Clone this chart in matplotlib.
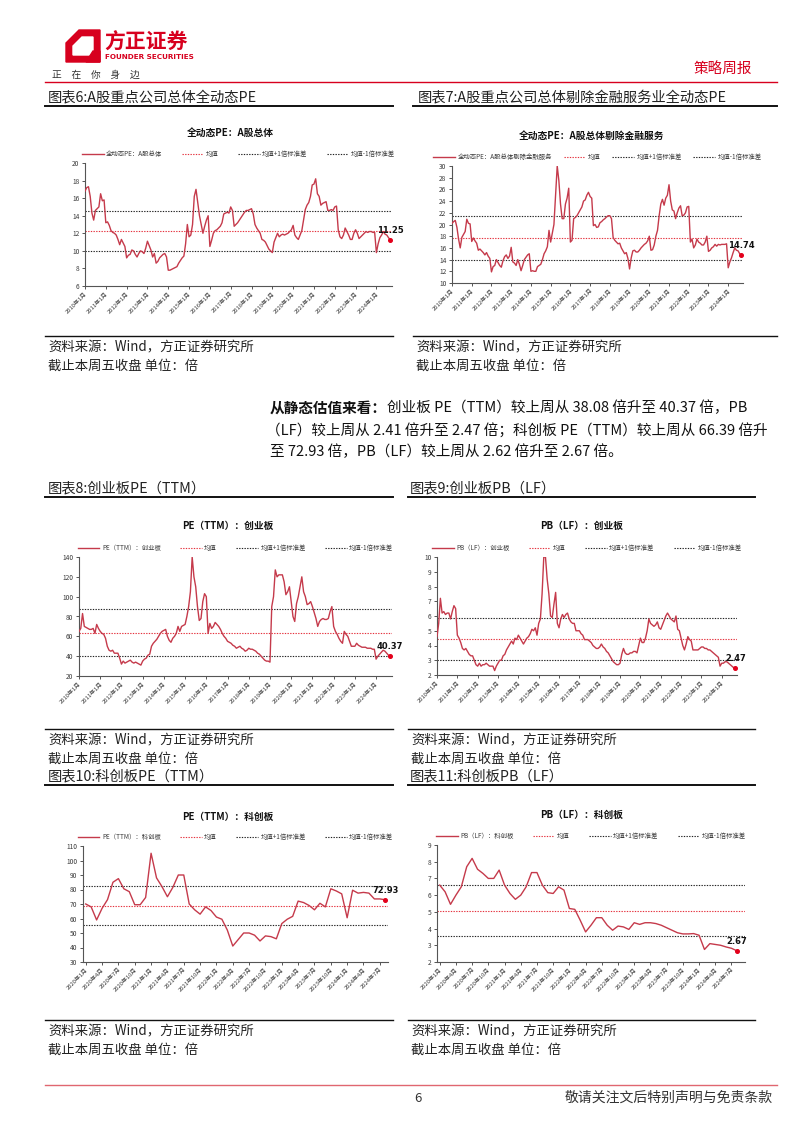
# -*- coding: utf-8 -*-
# 策略周报 第6页：A股/创业板/科创板估值图
import numpy as np
import matplotlib.pyplot as plt
from matplotlib.patches import Polygon

plt.rcParams['font.family'] = ['Noto Sans CJK SC', 'DejaVu Sans']
plt.rcParams['axes.unicode_minus'] = False

# ---------------- 数据 ----------------
# 月度，2010年1月 ~ 2024年9月
pe_all = [16.8, 17.2, 17.3, 16.2, 14.3, 13.5, 14.6, 14.8, 15.0, 16.5, 15.7, 15.8,
          13.2, 13.3, 12.9, 12.3, 12.1, 12.0, 11.8, 11.3, 10.7, 11.3, 10.9, 10.5,
          9.2, 9.5, 9.6, 10.1, 10.0, 9.6, 9.3, 9.7, 10.0, 9.9, 9.7, 10.3,
          11.1, 10.6, 10.1, 9.3, 9.7, 8.6, 8.8, 9.2, 9.4, 9.6, 9.7, 9.3,
          7.8, 7.8, 7.9, 8.0, 8.1, 8.2, 8.6, 8.9, 9.2, 9.4, 10.8, 13.0,
          11.6, 11.8, 13.0, 16.2, 17.0, 15.5, 14.0, 13.0, 12.0, 12.8, 13.5, 14.0,
          10.5, 11.2, 12.0, 12.3, 12.4, 12.6, 12.8, 13.2, 14.2, 14.3, 14.4, 14.3,
          15.0, 14.6, 12.8, 13.0, 13.2, 13.5, 13.8, 14.1, 14.4, 14.6, 14.6, 14.7,
          14.8, 14.2, 13.0, 12.6, 12.3, 12.0, 11.3, 11.2, 11.0, 10.6, 10.2, 10.0,
          9.8, 11.0, 11.5, 12.0, 11.6, 11.8, 11.9, 11.8, 11.9, 12.0, 12.2, 12.4,
          12.9, 11.8, 11.5, 11.3, 11.8, 12.3, 13.5, 14.7, 15.2, 15.5, 16.2, 17.5,
          17.6, 18.2, 16.5, 16.2, 15.2, 15.4, 15.5, 15.6, 14.6, 14.6, 14.7, 14.6,
          15.0, 15.1, 12.4, 11.6, 11.4, 11.8, 12.6, 12.2, 11.8, 11.3, 11.3, 12.0,
          12.4, 12.0, 11.4, 11.6, 11.8, 12.0, 12.2, 12.1, 12.2, 12.2, 12.1, 12.1,
          9.8, 10.8, 11.5, 11.8, 12.2, 11.9, 11.8, 11.5, 11.25]

pe_ex_fin = [20.2, 20.5, 20.7, 19.5, 17.5, 16.0, 17.8, 18.3, 18.8, 20.9, 20.2, 20.1,
             17.1, 17.7, 17.2, 16.8, 15.6, 15.8, 15.5, 15.2, 14.8, 15.2, 14.6, 14.2,
             11.9, 12.8, 13.0, 14.0, 13.5, 13.0, 12.7, 13.8, 14.5, 14.8, 14.2, 14.6,
             16.1, 13.6, 13.4, 13.0, 14.0, 13.2, 12.1, 13.0, 14.0, 14.4, 14.8, 15.0,
             12.0, 12.1, 12.0, 12.0, 12.8, 13.0, 13.2, 14.0, 15.0, 15.5, 16.2, 19.0,
             17.0, 18.5, 20.0, 25.0, 30.0, 27.5, 23.5, 21.0, 21.0, 23.5, 24.5, 26.2,
             17.0, 17.3, 21.0, 21.2, 21.5, 22.0, 22.5, 23.0, 24.0, 24.2, 25.0, 25.5,
             24.8, 24.5, 19.8, 20.0, 19.5, 19.6, 20.3, 20.5, 20.8, 21.0, 21.3, 21.5,
             21.5, 21.0, 17.8, 17.3, 17.0, 16.7, 16.8, 16.0, 15.5, 15.0, 15.2, 14.2,
             12.4, 14.3, 15.5, 15.6, 15.3, 15.3, 15.6, 16.0, 16.3, 16.6, 16.8, 17.2,
             18.0, 15.6, 15.7, 16.5, 18.0, 19.0, 21.5, 23.5, 24.3, 23.3, 24.5, 25.0,
             26.8, 24.0, 22.5, 22.3, 21.0, 22.0, 22.8, 23.2, 21.5, 21.6, 22.0, 23.0,
             23.1, 17.0, 17.5, 16.0, 16.5, 17.5, 17.0, 16.8, 16.5, 16.5, 17.0, 18.0,
             15.4, 15.6, 16.0, 16.2, 16.6, 16.3, 16.6, 16.5, 16.6, 16.6, 16.6, 16.7,
             12.6, 13.6, 14.3, 15.2, 16.0, 15.6, 15.5, 15.0, 14.74]

cyb_pe = [65, 68, 83, 70, 69, 68, 67, 67, 68, 63, 72, 68,
          65, 63, 62, 58, 50, 46, 45, 46, 43, 43, 43, 38,
          32, 35, 33, 34, 35, 36, 34, 33, 34, 33, 32, 31,
          35, 37, 38, 41, 42, 50, 53, 55, 57, 60, 63, 65,
          66, 67, 60, 56, 54, 58, 60, 63, 70, 65, 70, 71,
          72, 80, 90, 105, 140, 120, 110, 90, 76, 78, 95, 103,
          100, 63, 73, 68, 70, 74, 72, 70, 67, 63, 60, 58,
          55, 54, 53, 51, 50, 48, 49, 50, 48, 47, 45, 46,
          48, 47, 47, 46, 45, 43, 42, 40, 38, 36, 35, 35,
          34, 90, 100, 127, 120, 122, 122, 122, 115, 102, 105, 110,
          95, 80, 75, 93, 100, 110, 120, 105, 100, 92, 93, 95,
          90, 84, 78, 70, 75, 77, 78, 77, 77, 78, 85, 90,
          70, 65, 62, 58, 55, 53, 65, 62, 60, 55, 50, 50,
          50, 53, 51, 50, 49, 49, 49, 48, 48, 48, 47, 47,
          37, 40, 42, 44, 46, 45, 43, 41, 40.37]

cyb_pb = [4.6, 5.5, 7.2, 6.2, 6.3, 6.1, 6.2, 6.2, 5.8, 6.3, 6.7, 6.5,
          4.7, 4.5, 4.2, 3.8, 3.7, 3.8, 3.6, 3.4, 3.3, 3.3, 3.0, 2.7,
          2.6, 2.8, 2.6, 2.7, 2.7, 2.8, 2.7, 2.6, 2.6, 2.6, 2.3, 2.6,
          2.8, 3.0, 3.0, 3.3, 3.4, 3.7, 3.9, 4.1, 4.3, 4.1, 4.5, 4.4,
          4.7, 4.5, 4.3, 4.1, 4.3, 4.5, 4.6, 4.8, 5.1, 5.0, 5.2, 4.7,
          5.5, 5.8, 7.5, 10.0, 10.0, 8.5, 7.5, 6.0, 5.9, 6.8, 7.6, 5.5,
          5.2, 5.8, 6.1, 5.9, 6.1, 6.2, 5.8, 5.6, 5.5, 5.5, 5.0, 5.0,
          5.0, 4.8, 4.7, 4.4, 4.4, 4.4, 4.3, 4.2, 4.0, 3.9, 3.8, 3.8,
          3.9, 4.1, 3.9, 3.8, 3.6, 3.5, 3.3, 3.1, 2.9, 2.8, 2.7, 2.7,
          2.8, 3.4, 3.8, 3.5, 3.4, 3.4, 3.5, 3.5, 3.6, 3.6, 3.5, 4.0,
          4.5, 4.2, 4.2, 4.5, 5.0, 5.8, 5.5, 5.4, 5.3, 5.4, 5.6, 5.2,
          5.1, 5.4, 5.7, 6.0, 6.2, 6.0, 5.8, 5.7, 5.6, 6.0, 5.1, 5.0,
          4.5, 4.0, 3.7, 4.1, 4.6, 4.4, 4.3, 3.7, 3.7, 3.7, 3.7, 3.8,
          3.9, 3.9, 3.8, 3.8, 3.7, 3.7, 3.6, 3.5, 3.4, 3.3, 3.2, 2.6,
          2.8, 2.8, 2.9, 2.9, 2.8, 2.7, 2.6, 2.5, 2.47]

# 月度，2020年1月 ~ 2024年8月
kcb_pe = [70, 68, 59, 67, 73, 85, 87.5, 80.5, 78.5, 69.5, 69.5, 74.5,
          105, 88, 82, 75, 81.5, 90, 90, 70, 66, 63, 68, 65.5,
          61, 59.5, 52, 41, 45.5, 50, 50, 48.5, 44.5, 48, 47.5, 46,
          56.5, 59.5, 61.5, 72, 71, 69, 66, 70.5, 68, 80.5, 79, 77,
          60.5, 79.5, 77.5, 78, 77.5, 73.5, 73.5, 72.93]

kcb_pb = [6.6, 6.2, 5.45, 6.0, 6.5, 7.7, 8.2, 7.55, 7.3, 7.0, 7.0, 7.5,
          6.6, 6.1, 5.75, 6.0, 6.5, 7.35, 7.35, 6.6, 6.15, 6.1, 6.5, 6.3,
          5.2, 5.15, 4.5, 3.8, 4.2, 4.65, 4.65, 4.2, 3.9, 4.15, 4.1, 3.95,
          4.35, 4.25, 4.35, 4.35, 4.3, 4.2, 4.05, 3.9, 3.75, 3.68, 3.68, 3.7,
          3.6, 2.75, 3.1, 3.05, 3.0, 2.9, 2.82, 2.67]

# 均值及标准差
avg_list = [12.31, 17.72, 63.75, 4.45, 68.75, 5.07]
sd_list = [2.27, 3.73, 23.65, 1.43, 13.35, 1.54]

year_labels = [f'{y}年1月' for y in range(2010, 2025)]
quarter_labels = [f'{2020 + i // 4}年{[1, 4, 7, 10][i % 4]}月' for i in range(19)]

series_names = ['全动态PE：A股总体', '全动态PE：A股总体剔除金融服务',
                'PE（TTM）：创业板', 'PB（LF）：创业板',
                'PE（TTM）：科创板', 'PB（LF）：科创板']

# ---------------- 画布 ----------------
W, H = 802, 1133
fig = plt.figure(figsize=(W / 100, H / 100), dpi=100)
bg = fig.add_axes([0, 0, 1, 1])
bg.set_xlim(0, W)
bg.set_ylim(H, 0)
bg.axis('off')

RED = '#D7001E'
LINE = '#C53A4B'
GREY = '#3A3A3A'


def px_axes(l, t, r, b):
    return fig.add_axes([l / W, 1 - b / H, (r - l) / W, (b - t) / H])


def panel(ax, y, name, avg, sd, ylim, ystep, xticks, xlabels, xlim, title, tx, ty, cs=3.0):
    x = np.arange(len(y))
    ax.plot(x, y, color=LINE, lw=1.0, label=name, zorder=3)
    ax.axhline(avg, color='#E5323E', lw=0.8, ls=(0, (1.2, 1.2)), label='均值')
    ax.axhline(avg + sd, color='#222222', lw=0.8, ls=(0, (1.2, 1.2)), label='均值+1倍标准差')
    ax.axhline(avg - sd, color='#222222', lw=0.8, ls=(0, (1.2, 1.2)), label='均值-1倍标准差')
    ax.plot(x[-1], y[-1], 'o', color='#E3001B', ms=2.6, zorder=4)
    ax.annotate(f'{y[-1]:.2f}', (x[-1], y[-1]), xytext=(0, 3.5), textcoords='offset points',
                ha='center', va='bottom', fontsize=6, fontweight='bold', color='#111111',
                family=['DejaVu Sans'])
    ax.set_ylim(*ylim)
    ax.set_yticks(np.arange(ylim[0], ylim[1] + 0.01, ystep))
    ax.set_xlim(*xlim)
    ax.set_xticks(xticks)
    ax.set_xticklabels(xlabels, rotation=45, ha='right', rotation_mode='anchor', fontsize=4.2)
    ax.tick_params(axis='y', labelsize=4.8, length=2, width=0.6, colors=GREY, pad=2)
    ax.tick_params(axis='x', length=2, width=0.6, colors=GREY, pad=1.5)
    for s in ['top', 'right']:
        ax.spines[s].set_visible(False)
    for s in ['left', 'bottom']:
        ax.spines[s].set_color('#555555')
        ax.spines[s].set_linewidth(0.8)
    ax.legend(ncol=4, loc='lower center', bbox_to_anchor=(0.5, 1.01), frameon=False,
              fontsize=4.6, handlelength=3.4, columnspacing=cs, handletextpad=0.4,
              labelcolor=GREY, borderaxespad=0.2)
    bg.text(tx, ty, title, ha='center', va='center', fontsize=7, fontweight='bold', color='#111111')


def fig_title(x, y, text, x0, x1):
    bg.text(x, y, text, ha='left', va='center', fontsize=10.3, color='#222222')
    bg.plot([x0, x1], [y + 9, y + 9], color='#111111', lw=1.4)


def source(y, x0, x1):
    bg.plot([x0, x1], [y, y], color='#111111', lw=1.0)
    bg.text(x0 + 3, y + 11, '资料来源：Wind，方正证券研究所', ha='left', va='center',
            fontsize=9.6, color='#222222')
    bg.text(x0 + 3, y + 30, '截止本周五收盘 单位：倍', ha='left', va='center',
            fontsize=9.6, color='#222222')


# ---------------- 页眉 ----------------
bg.add_patch(Polygon([(66, 62), (66, 43), (79, 30), (100, 30), (100, 62)], closed=True, color=RED))
bg.add_patch(Polygon([(73, 55), (73, 46), (82, 37), (93, 37), (93, 55)], closed=True, color='white'))
bg.add_patch(Polygon([(86, 62), (93, 51), (100, 51), (100, 62)], closed=True, color=RED))
bg.text(104, 42, '方正证券', fontsize=15, fontweight='bold', color=RED, ha='left', va='center')
bg.text(105, 57, 'FOUNDER SECURITIES', fontsize=5.2, fontweight='bold', color=RED,
        ha='left', va='center', family=['DejaVu Sans'])
bg.text(52, 75, '正　在　你　身　边', fontsize=7, color='#333333', ha='left', va='center')
bg.text(752, 70, '策略周报', fontsize=10.5, color=RED, ha='right', va='center')
bg.plot([45, 777], [82, 82], color=RED, lw=1.0)

# ---------------- 图表6 / 7 ----------------
fig_title(48, 97, '图表6:A股重点公司总体全动态PE', 45, 393)
fig_title(418, 97, '图表7:A股重点公司总体剔除金融服务业全动态PE', 413, 777)

ax6 = px_axes(85, 163, 392, 286)
panel(ax6, pe_all, series_names[0], avg_list[0], sd_list[0], (6, 20), 2,
      np.arange(0, 169, 12), year_labels, (0, 177), series_names[0], 230, 133)
ax7 = px_axes(452, 166, 743, 283)
panel(ax7, pe_ex_fin, series_names[1], avg_list[1], sd_list[1], (10, 30), 2,
      np.arange(0, 169, 12), year_labels, (0, 177), series_names[1], 592, 136, cs=1.8)

source(336, 45, 393)
source(336, 413, 777)

# ---------------- 正文 ----------------
b = bg.text(270, 408, '从静态估值来看：', fontsize=10.5, fontweight='bold', color='#111111',
            ha='left', va='center')
bg.annotate('创业板 PE（TTM）较上周从 38.08 倍升至 40.37 倍，PB', xy=(1, 0.5), xycoords=b,
            ha='left', va='center', fontsize=10.5, color='#111111')
bg.text(266, 431, '（LF）较上周从 2.41 倍升至 2.47 倍；科创板 PE（TTM）较上周从 66.39 倍升',
        fontsize=10.5, color='#111111', ha='left', va='center')
bg.text(270, 452, '至 72.93 倍，PB（LF）较上周从 2.62 倍升至 2.67 倍。',
        fontsize=10.5, color='#111111', ha='left', va='center')

# ---------------- 图表8 / 9 ----------------
fig_title(48, 488, '图表8:创业板PE（TTM）', 45, 393)
fig_title(410, 488, '图表9:创业板PB（LF）', 408, 755)

ax8 = px_axes(79, 557, 392, 676)
panel(ax8, cyb_pe, series_names[2], avg_list[2], sd_list[2], (20, 140), 20,
      np.arange(0, 169, 12), year_labels, (0, 177), series_names[2], 228, 526)
ax9 = px_axes(437, 557, 737, 675)
panel(ax9, cyb_pb, series_names[3], avg_list[3], sd_list[3], (2, 10), 1,
      np.arange(0, 169, 12), year_labels, (0, 177), series_names[3], 582, 526)

source(729, 45, 393)
source(729, 408, 755)

# ---------------- 图表10 / 11 ----------------
fig_title(48, 776, '图表10:科创板PE（TTM）', 45, 393)
fig_title(410, 776, '图表11:科创板PB（LF）', 408, 755)

ax10 = px_axes(83, 846, 388, 962)
panel(ax10, kcb_pe, series_names[4], avg_list[4], sd_list[4], (30, 110), 10,
      np.arange(0, 55, 3), quarter_labels, (-0.5, 55.5), series_names[4], 228, 817)
ax11 = px_axes(437, 845, 745, 962)
panel(ax11, kcb_pb, series_names[5], avg_list[5], sd_list[5], (2, 9), 1,
      np.arange(0, 55, 3), quarter_labels, (-0.5, 56.5), series_names[5], 582, 815)

source(1020, 45, 393)
source(1020, 408, 755)

# ---------------- 页脚 ----------------
bg.plot([45, 777], [1085, 1085], color='#E06670', lw=1.0)
bg.text(418, 1098, '6', fontsize=9.5, color='#333333', ha='center', va='center')
bg.text(773, 1098, '敬请关注文后特别声明与免责条款', fontsize=10, color='#333333',
        ha='right', va='center')

fig.savefig('out.png', dpi=100)
